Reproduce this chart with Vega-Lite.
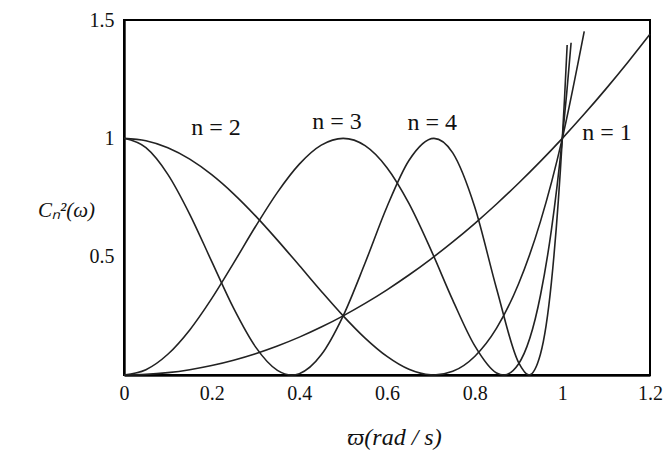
{
  "$schema": "https://vega.github.io/schema/vega-lite/v6.json",
  "width": 526,
  "height": 355,
  "autosize": "none",
  "padding": {"left": 124, "top": 20, "right": 15, "bottom": 82},
  "background": "white",
  "datasets": {
    "curves": [
      {"n": "1", "w": 0, "c": 0}, {"n": "1", "w": 0.05, "c": 0.0025}, {"n": "1", "w": 0.1, "c": 0.01}, {"n": "1", "w": 0.15, "c": 0.0225}, {"n": "1", "w": 0.2, "c": 0.04}, {"n": "1", "w": 0.25, "c": 0.0625}, {"n": "1", "w": 0.3, "c": 0.09}, {"n": "1", "w": 0.35, "c": 0.1225}, {"n": "1", "w": 0.4, "c": 0.16}, {"n": "1", "w": 0.45, "c": 0.2025}, {"n": "1", "w": 0.5, "c": 0.25}, {"n": "1", "w": 0.55, "c": 0.3025}, {"n": "1", "w": 0.6, "c": 0.36}, {"n": "1", "w": 0.65, "c": 0.4225}, {"n": "1", "w": 0.7, "c": 0.49}, {"n": "1", "w": 0.75, "c": 0.5625}, {"n": "1", "w": 0.8, "c": 0.64}, {"n": "1", "w": 0.85, "c": 0.7225}, {"n": "1", "w": 0.9, "c": 0.81}, {"n": "1", "w": 0.95, "c": 0.9025}, {"n": "1", "w": 1.0, "c": 1.0}, {"n": "1", "w": 1.05, "c": 1.1025}, {"n": "1", "w": 1.1, "c": 1.21}, {"n": "1", "w": 1.15, "c": 1.3225}, {"n": "1", "w": 1.2, "c": 1.44},
      {"n": "2", "w": 0, "c": 1.0}, {"n": "2", "w": 0.05, "c": 0.99}, {"n": "2", "w": 0.1, "c": 0.9604}, {"n": "2", "w": 0.15, "c": 0.912}, {"n": "2", "w": 0.2, "c": 0.8464}, {"n": "2", "w": 0.25, "c": 0.7656}, {"n": "2", "w": 0.3, "c": 0.6724}, {"n": "2", "w": 0.35, "c": 0.57}, {"n": "2", "w": 0.4, "c": 0.4624}, {"n": "2", "w": 0.45, "c": 0.354}, {"n": "2", "w": 0.5, "c": 0.25}, {"n": "2", "w": 0.55, "c": 0.156}, {"n": "2", "w": 0.6, "c": 0.0784}, {"n": "2", "w": 0.65, "c": 0.024}, {"n": "2", "w": 0.7, "c": 0.0004}, {"n": "2", "w": 0.7071, "c": 0}, {"n": "2", "w": 0.75, "c": 0.0156}, {"n": "2", "w": 0.8, "c": 0.0784}, {"n": "2", "w": 0.85, "c": 0.198}, {"n": "2", "w": 0.9, "c": 0.3844}, {"n": "2", "w": 0.95, "c": 0.648}, {"n": "2", "w": 1.0, "c": 1.0}, {"n": "2", "w": 1.05, "c": 1.452},
      {"n": "3", "w": 0, "c": 0}, {"n": "3", "w": 0.05, "c": 0.0224}, {"n": "3", "w": 0.1, "c": 0.0876}, {"n": "3", "w": 0.15, "c": 0.1905}, {"n": "3", "w": 0.2, "c": 0.3226}, {"n": "3", "w": 0.25, "c": 0.4727}, {"n": "3", "w": 0.3, "c": 0.6273}, {"n": "3", "w": 0.35, "c": 0.7718}, {"n": "3", "w": 0.4, "c": 0.8911}, {"n": "3", "w": 0.45, "c": 0.9712}, {"n": "3", "w": 0.5, "c": 1.0}, {"n": "3", "w": 0.55, "c": 0.9692}, {"n": "3", "w": 0.6, "c": 0.8761}, {"n": "3", "w": 0.65, "c": 0.7251}, {"n": "3", "w": 0.7, "c": 0.53}, {"n": "3", "w": 0.75, "c": 0.3164}, {"n": "3", "w": 0.8, "c": 0.1239}, {"n": "3", "w": 0.85, "c": 0.0087}, {"n": "3", "w": 0.866, "c": 0}, {"n": "3", "w": 0.9, "c": 0.0467}, {"n": "3", "w": 0.95, "c": 0.3358}, {"n": "3", "w": 0.975, "c": 0.6122}, {"n": "3", "w": 1.0, "c": 1.0}, {"n": "3", "w": 1.01, "c": 1.1907}, {"n": "3", "w": 1.02, "c": 1.4037},
      {"n": "4", "w": 0, "c": 1.0}, {"n": "4", "w": 0.05, "c": 0.9605}, {"n": "4", "w": 0.1, "c": 0.8479}, {"n": "4", "w": 0.15, "c": 0.6791}, {"n": "4", "w": 0.2, "c": 0.48}, {"n": "4", "w": 0.25, "c": 0.2822}, {"n": "4", "w": 0.3, "c": 0.1189}, {"n": "4", "w": 0.35, "c": 0.0196}, {"n": "4", "w": 0.3827, "c": 0}, {"n": "4", "w": 0.4, "c": 0.0057}, {"n": "4", "w": 0.45, "c": 0.0852}, {"n": "4", "w": 0.5, "c": 0.25}, {"n": "4", "w": 0.55, "c": 0.4733}, {"n": "4", "w": 0.6, "c": 0.711}, {"n": "4", "w": 0.65, "c": 0.9063}, {"n": "4", "w": 0.7071, "c": 1.0}, {"n": "4", "w": 0.75, "c": 0.9385}, {"n": "4", "w": 0.8, "c": 0.711}, {"n": "4", "w": 0.85, "c": 0.3648}, {"n": "4", "w": 0.9, "c": 0.0535}, {"n": "4", "w": 0.9239, "c": 0}, {"n": "4", "w": 0.95, "c": 0.0876}, {"n": "4", "w": 0.975, "c": 0.39}, {"n": "4", "w": 1.0, "c": 1.0}, {"n": "4", "w": 1.005, "c": 1.1686}, {"n": "4", "w": 1.011, "c": 1.3945}
    ],
    "labels": [
      {"w": 0.21, "c": 1.044, "t": "n = 2"},
      {"w": 0.486, "c": 1.069, "t": "n = 3"},
      {"w": 0.703, "c": 1.065, "t": "n = 4"},
      {"w": 1.102, "c": 1.022, "t": "n = 1"}
    ],
    "frame": [
      {"x0": 0, "x1": 1.2, "y0": 0, "y1": 1.5}
    ]
  },
  "layer": [
    {
      "data": {"name": "frame"},
      "mark": {"type": "rect", "filled": false, "stroke": "black", "strokeWidth": 2},
      "encoding": {
        "x": {"field": "x0", "type": "quantitative", "title": "ϖ(rad / s)", "scale": {"domain": [0, 1.2], "nice": false, "zero": false}},
        "x2": {"field": "x1"},
        "y": {"field": "y0", "type": "quantitative", "title": "Cₙ²(ω)", "scale": {"domain": [0, 1.5], "nice": false}},
        "y2": {"field": "y1"}
      }
    },
    {
      "data": {"name": "curves"},
      "mark": {"type": "line", "interpolate": "monotone", "color": "#222", "strokeWidth": 1.6},
      "encoding": {
        "x": {
          "field": "w", "type": "quantitative",
          "scale": {"domain": [0, 1.2], "nice": false, "zero": false},
          "axis": {
            "values": [0, 0.2, 0.4, 0.6, 0.8, 1, 1.2], "format": "~g",
            "domain": true, "domainColor": "#111", "domainWidth": 2.5,
            "ticks": false, "grid": false,
            "labelFont": "Liberation Serif", "labelFontSize": 20, "labelColor": "#111",
            "labelPadding": 8, "labelFlush": false,
            "title": "ϖ(rad / s)", "titleFont": "Liberation Serif", "titleFontStyle": "italic",
            "titleFontWeight": "normal", "titleFontSize": 24, "titleColor": "#111",
            "titleX": 270, "titleY": 62, "titleBaseline": "middle"
          }
        },
        "y": {
          "field": "c", "type": "quantitative",
          "scale": {"domain": [0, 1.5], "nice": false},
          "axis": {
            "values": [0.5, 1, 1.5], "format": "~g",
            "domain": true, "domainColor": "#111", "domainWidth": 2.5,
            "ticks": false, "grid": false,
            "labelFont": "Liberation Serif", "labelFontSize": 20, "labelColor": "#111",
            "labelPadding": 10, "labelFlush": false,
            "title": "Cₙ²(ω)", "titleFont": "Liberation Serif", "titleFontStyle": "italic",
            "titleFontWeight": "normal", "titleFontSize": 21, "titleColor": "#111",
            "titleAngle": 0, "titleX": -58, "titleY": 190, "titleAlign": "center", "titleBaseline": "middle"
          }
        },
        "detail": {"field": "n"}
      }
    },
    {
      "data": {"name": "labels"},
      "mark": {"type": "text", "font": "Liberation Serif", "fontSize": 24, "color": "#111", "align": "center", "baseline": "middle"},
      "encoding": {
        "x": {"field": "w", "type": "quantitative", "title": "ϖ(rad / s)"},
        "y": {"field": "c", "type": "quantitative", "title": "Cₙ²(ω)"},
        "text": {"field": "t"}
      }
    }
  ]
}
